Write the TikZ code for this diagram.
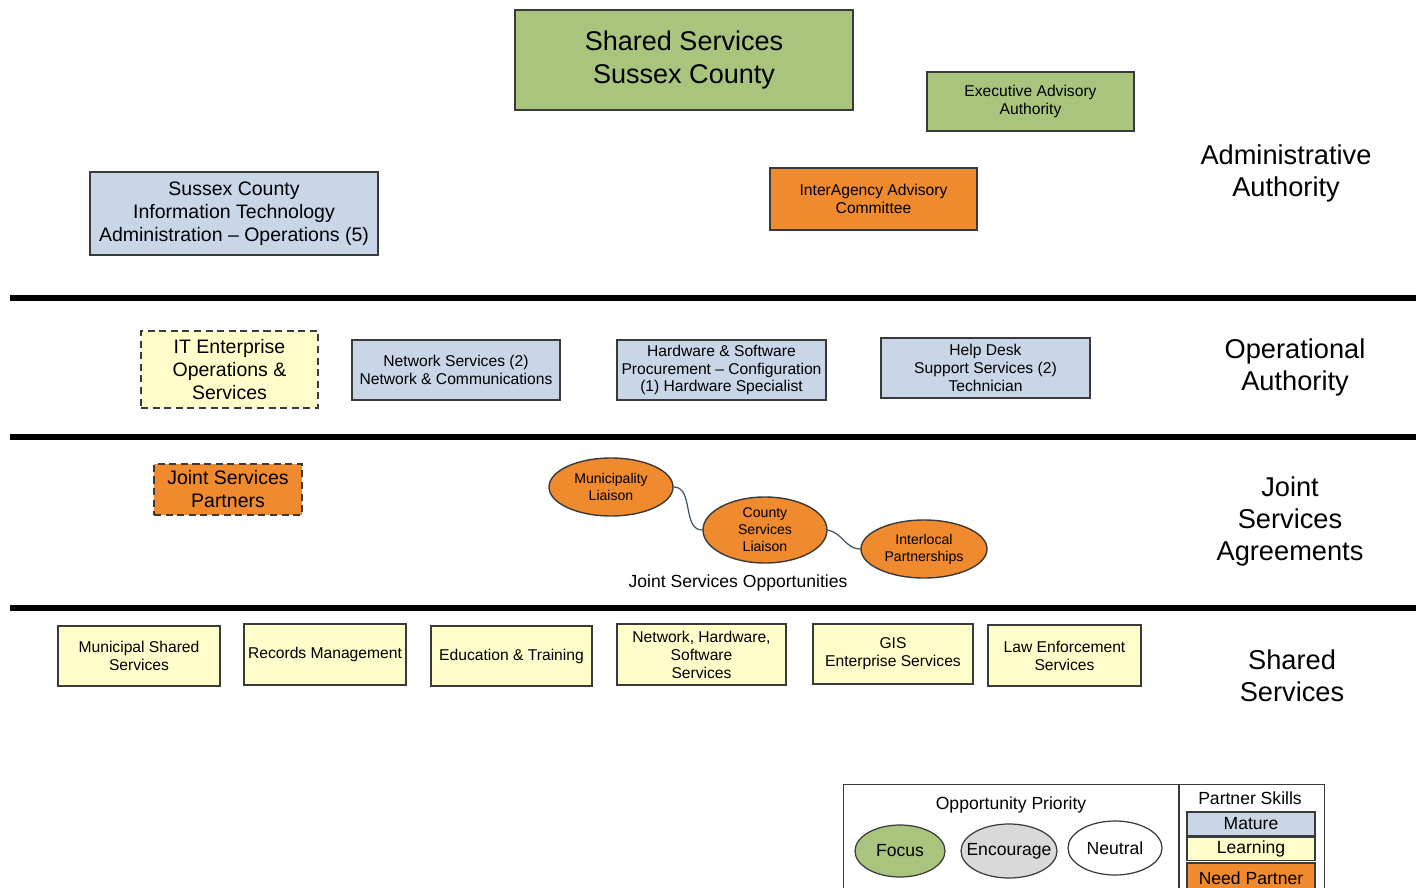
\documentclass[tikz,border=0pt]{standalone}
\usepackage{fontspec}
\setmainfont{Liberation Sans}
\usetikzlibrary{shapes.geometric}

\definecolor{sgreen}{HTML}{A9C57D}
\definecolor{sblue}{HTML}{C9D6E7}
\definecolor{syellow}{HTML}{FFFDC9}
\definecolor{sorange}{HTML}{F08A2E}
\definecolor{sgray}{HTML}{D9D9D9}
\definecolor{sline}{HTML}{3A3A3A}
\definecolor{slink}{HTML}{3E5566}

\newcommand{\zw}[1]{\makebox[0pt]{#1}}

\tikzset{
  unit/.style 2 args={minimum width=#1*0.02cm, minimum height=#2*0.02cm},
  box/.style={draw=sline, line width=0.8pt, inner sep=0pt, align=center, font=\fontsize{8.9}{10.2}\selectfont},
  midtext/.style={font=\fontsize{11.1}{13.1}\selectfont},
  mature/.style={box, fill=sblue},
  learning/.style={box, fill=syellow},
  needpartner/.style={box, fill=sorange},
  authority/.style={box, fill=sgreen},
  dashbox/.style={dash pattern=on 4pt off 2.6pt},
  liaison/.style={ellipse, draw=sline, line width=0.8pt, fill=sorange, inner sep=0pt, align=center, font=\fontsize{8}{9.7}\selectfont},
  priority/.style={ellipse, draw=sline, line width=0.7pt, inner sep=0pt, font=\fontsize{10}{12}\selectfont},
  skill/.style={box, font=\fontsize{10}{12}\selectfont},
  level/.style={align=center, font=\fontsize{15.5}{18.2}\selectfont},
  divider/.style={line width=3pt},
  link/.style={draw=slink, line width=0.7pt},
}

\begin{document}
\begin{tikzpicture}[x=0.02cm,y=-0.02cm]
\useasboundingbox (0,0) rectangle (1416,888);
\clip (0,0) rectangle (1416,888);

\node[authority, unit={338}{100}, font=\fontsize{15.4}{18.8}\selectfont] (ssc) at (684,60) {\zw{Shared Services}\\\zw{Sussex County}};
\node[authority, unit={207}{59}] (exec) at (1030.5,101.5) {Executive Advisory\\Authority};
\node[needpartner, unit={207}{62}] (inter) at (873.5,199) {InterAgency Advisory\\Committee};
\node[mature, midtext, unit={288}{83}] (scit) at (234,213.5) {Sussex County\\Information Technology\\Administration -- Operations (5)};
\node[level] (admin) at (1286,173) {Administrative\\Authority};

\draw[divider] (10,298) -- (1416,298);

\node[learning, midtext, dashbox, unit={177}{77}] (itent) at (229.5,369.5) {IT Enterprise\\Operations \&\\Services};
\node[mature, unit={208}{60}] (netsvc) at (456,370) {Network Services (2)\\Network \& Communications};
\node[mature, unit={209}{60}] (hwsw) at (721.5,370) {Hardware \& Software\\Procurement -- Configuration\\(1) Hardware Specialist};
\node[mature, unit={209}{60}] (help) at (985.5,368) {Help Desk\\Support Services (2)\\Technician};
\node[level] (oper) at (1295,367) {Operational\\Authority};

\draw[divider] (10,437) -- (1416,437);

\node[needpartner, midtext, dashbox, unit={148}{51}] (jsp) at (228,489.5) {Joint Services\\Partners};
\node[liaison, unit={124}{58}] (mun) at (611,487) {Municipality\\Liaison};
\node[liaison, unit={124}{66}] (cty) at (765,530) {County\\Services\\Liaison};
\node[liaison, unit={126}{58}] (intl) at (924,549) {Interlocal\\Partnerships};
\node[font=\fontsize{10}{12}\selectfont] (opp) at (738,583) {Joint Services Opportunities};
\draw[link] (mun.east) to[out=0,in=180] (cty.west);
\draw[link] (cty.east) to[out=-10,in=180] (intl.west);
\node[level] (joint) at (1290,521) {Joint\\Services\\Agreements};

\draw[divider] (10,608) -- (1416,608);

\node[learning, unit={162}{60}] (muni) at (139,656) {Municipal Shared\\Services};
\node[learning, unit={162}{61}] (rec) at (325,654.5) {Records Management};
\node[learning, unit={161}{60}] (edu) at (511.5,656) {Education \& Training};
\node[learning, unit={169}{61}] (nhs) at (701.5,654.5) {Network, Hardware,\\Software\\Services};
\node[learning, unit={160}{60}] (gis) at (893,654) {GIS\\Enterprise Services};
\node[learning, unit={153}{61}] (law) at (1064.5,655.5) {Law Enforcement\\Services};
\node[level] (shared) at (1292,676) {Shared\\Services};

\node[draw=sline, line width=0.8pt, unit={481}{111}, anchor=north west] (legend) at (843,784) {};
\draw[draw=sline, line width=0.8pt] (1179,784) -- (1179,895);
\node[font=\fontsize{10}{12}\selectfont] (opptitle) at (1011,805) {Opportunity Priority};
\node[priority, fill=sgreen, unit={90}{52}] (focus) at (900,851) {\zw{Focus}};
\node[priority, fill=sgray, unit={96}{54}] (encourage) at (1009,851) {\zw{Encourage}};
\node[priority, fill=white, unit={94}{54}] (neutral) at (1115,848) {\zw{Neutral}};
\node[font=\fontsize{10}{12}\selectfont] (skilltitle) at (1250,798) {Partner Skills};
\node[skill, fill=sblue, unit={128}{24}] (mature) at (1251,824) {Mature};
\node[skill, fill=syellow, unit={128}{23}] (learning) at (1251,849) {Learning};
\node[skill, fill=sorange, unit={128}{30}] (need) at (1251,878) {Need Partner};
\end{tikzpicture}
\end{document}
